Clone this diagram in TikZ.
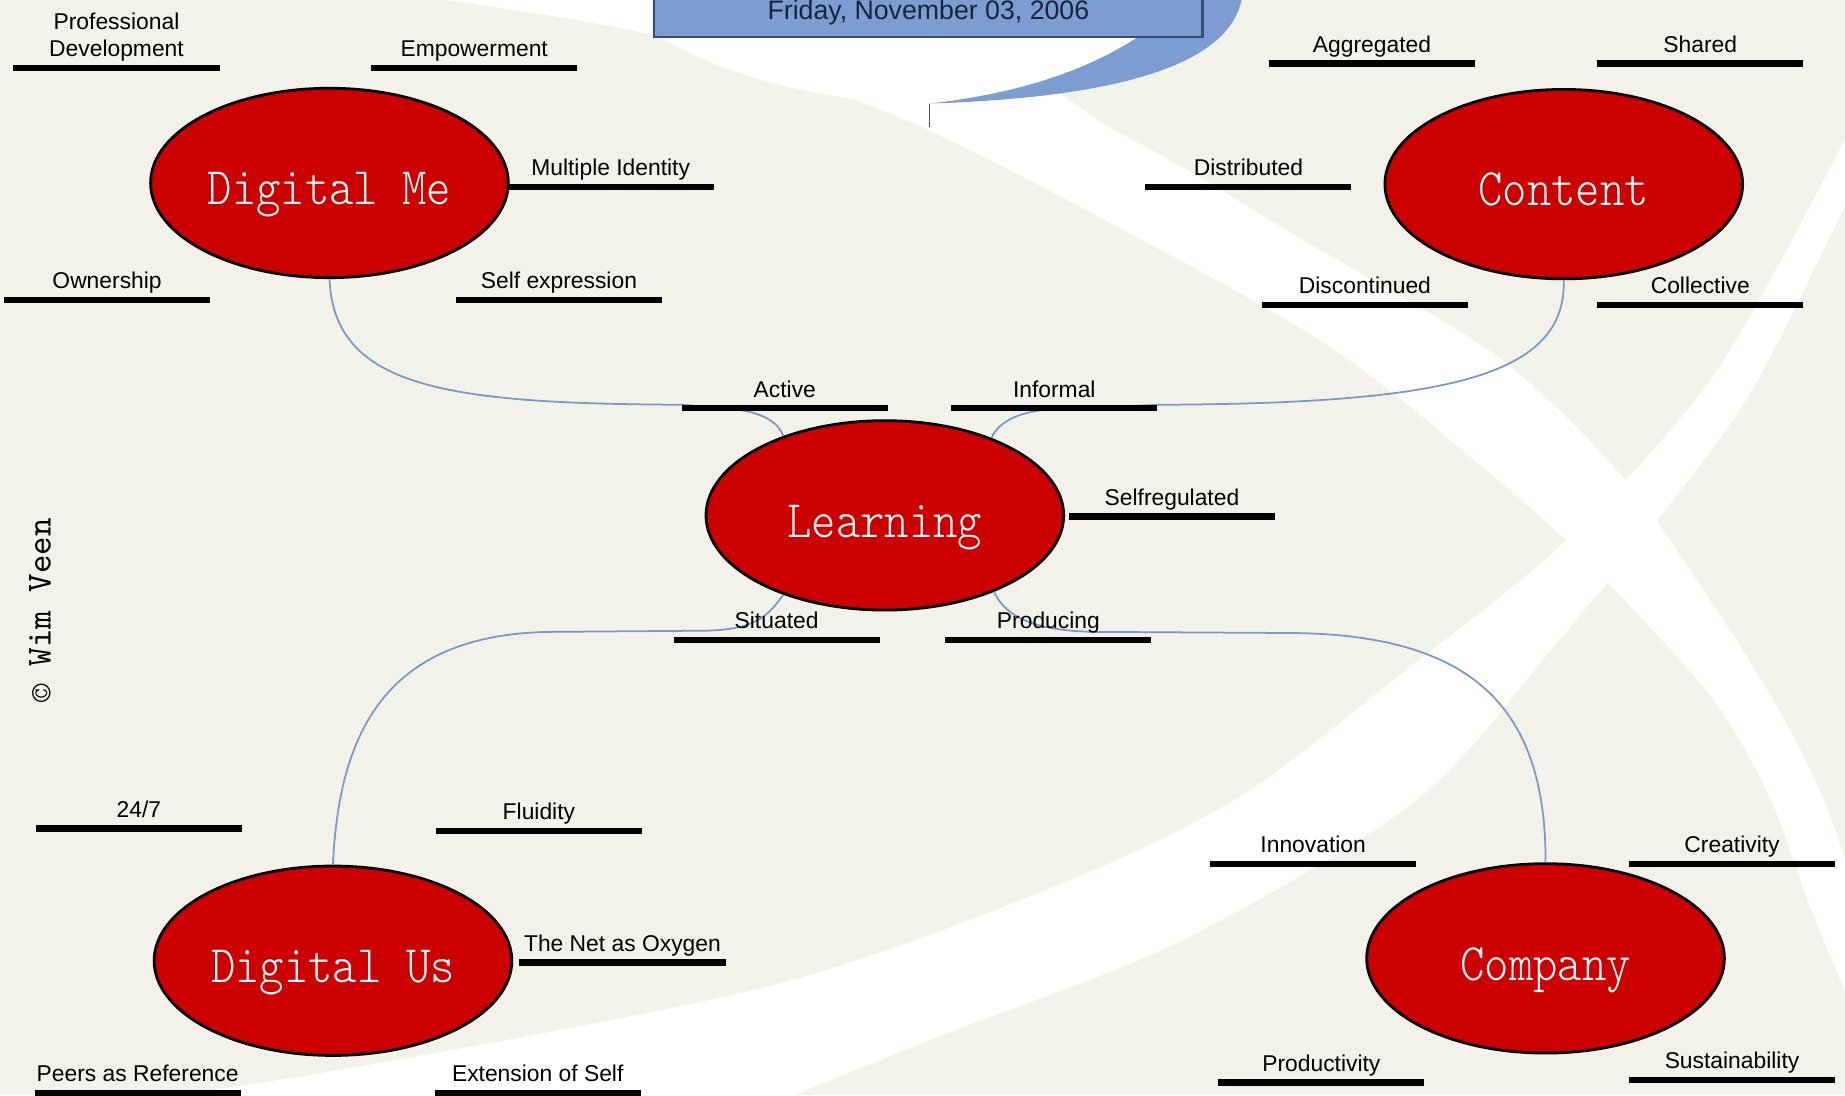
\documentclass[tikz,border=0pt]{standalone}
\usepackage{fontspec}
\setmainfont{Liberation Sans}
\newfontfamily\ovalfont{lmmonolt10-regular.otf}[FakeStretch=0.88]
\newfontfamily\signfont{lmmono10-regular.otf}
\usetikzlibrary{shapes.geometric}
\definecolor{paper}{RGB}{242,242,235}
\definecolor{ovalred}{RGB}{204,0,0}
\definecolor{dateblue}{RGB}{125,157,210}
\definecolor{dateedge}{RGB}{55,75,115}
\definecolor{linkblue}{RGB}{122,152,196}
\definecolor{datetext}{RGB}{25,35,60}

\tikzset{
  oval/.style={ellipse, draw=black, line width=0.8pt, fill=ovalred, text=white,
    minimum width=35.77mm, minimum height=18.94mm, inner sep=0pt,
    text height=12.4pt, text depth=0pt, font=\ovalfont\fontsize{15}{15}\selectfont},
  leaf/.style={anchor=south, minimum width=20.47mm, inner xsep=0pt, inner ysep=3pt,
    text depth=0pt, align=center, font=\fontsize{6.5}{7.7}\selectfont},
  bar/.style={line width=1.8pt, black},
  link/.style={linkblue, line width=0.5pt},
  datebox/.style={anchor=south, draw=dateedge, line width=0.6pt, fill=dateblue,
    minimum width=54.83mm, inner ysep=5pt, text height=40pt, text depth=0pt,
    text=datetext, font=\fontsize{7.6}{7.6}\selectfont},
}

\begin{document}
\begin{tikzpicture}[x=0.11767mm, y=-0.11767mm]
  \useasboundingbox (0,0) rectangle (1568,931);
  \begin{scope}
    \clip (0,0) rectangle (1568,931);
    \fill[paper] (0,0) rectangle (1568,931);
    % white swooshes behind the map
    \fill[white] plot[smooth] coordinates {(342,-5) (556,30) (765,100) (967,202) (1141,302) (1310,440) (1390,520) (1460,600) (1505,680) (1540,775) (1580,870)}
      -- plot[smooth] coordinates {(1585,780) (1550,680) (1510,600) (1450,505) (1377,403) (1271,302) (1104,202) (1010,145) (930,100) (850,40) (800,-5)} -- cycle;
    \fill[white] plot[smooth] coordinates {(-10,950) (255,915) (646,840) (880,760) (1049,680) (1198,567) (1330,460) (1459,315) (1580,95)}
      -- plot[smooth] coordinates {(1580,150) (1490,330) (1410,440) (1320,550) (1204,680) (1003,800) (800,880) (640,945)} -- cycle;
    % title disc
    \fill[white] (520,-5) .. controls (560,50) and (680,88) .. (790,88) .. controls (880,78) and (960,50) .. (1010,-5) -- cycle;
    \fill[dateblue] (1056,-5) .. controls (1050,45) and (980,82) .. (790,88) .. controls (880,78) and (960,50) .. (1010,-5) -- cycle;
    \node[datebox] (date) at (789,32) {Friday, November 03, 2006};
  \end{scope}
  \coordinate (stubtop) at (790,88);
  \coordinate (stubend) at (790,108);
  \draw[black!70, line width=0.4pt] (stubtop) -- (stubend);

  \node[oval] (dme) at (280,155.5) {Digital Me};
  \node[oval] (cnt) at (1329,156.5) {Content};
  \node[oval] (lrn) at (752,438) {Learning};
  \node[oval] (dus) at (283,816.5) {Digital Us};
  \node[oval] (cmp) at (1313.5,814.5) {Company};

  \draw[link] (dme.south) .. controls (284,330) and (380,343) .. (580,344) -- (625,348) .. controls (650,351) and (662,360) .. (lrn.142);
  \draw[link] (cnt.south) .. controls (1331,320) and (1230,343) .. (985,344) -- (890,348) .. controls (862,351) and (848,360) .. (lrn.36);
  \draw[link] (lrn.218) .. controls (652,525) and (640,535) .. (600,536) -- (470,537) .. controls (330,538) and (288,620) .. (dus.north);
  \draw[link] (lrn.-35) .. controls (855,525) and (880,536) .. (930,537) -- (1100,538) .. controls (1250,540) and (1314,600) .. (cmp.north);

  \foreach \name/\x/\y/\txt in {
    pdev/99/58/{Professional\\Development}, emp/403/58/Empowerment, mid/519/159/{Multiple Identity},
    own/91/255/Ownership, sex/475/255/{Self expression},
    agg/1166/54/Aggregated, shr/1445/54/Shared, dst/1061/159/Distributed,
    dsc/1160/259/Discontinued, col/1445/259/Collective,
    act/667/347/Active, inf/896/347/Informal, srg/996/439/Selfregulated,
    sit/660/544/Situated, prd/891/544/Producing,
    tfs/118/704/{24/7}, flu/458/706/Fluidity, nox/529/818/{The Net as Oxygen},
    per/117/929/{Peers as Reference}, ext/457/929/{Extension of Self},
    inn/1116/734/Innovation, cre/1472/734/Creativity,
    prv/1123/920/Productivity, sus/1472/918/Sustainability}
  {
    \node[leaf] (\name) at (\x,\y) {\txt};
    \draw[bar] (\name.south west) -- (\name.south east);
  }

  \node[rotate=90, font=\signfont\fontsize{10}{10}\selectfont] (sign) at (34,519) {© Wim Veen};
\end{tikzpicture}
\end{document}
